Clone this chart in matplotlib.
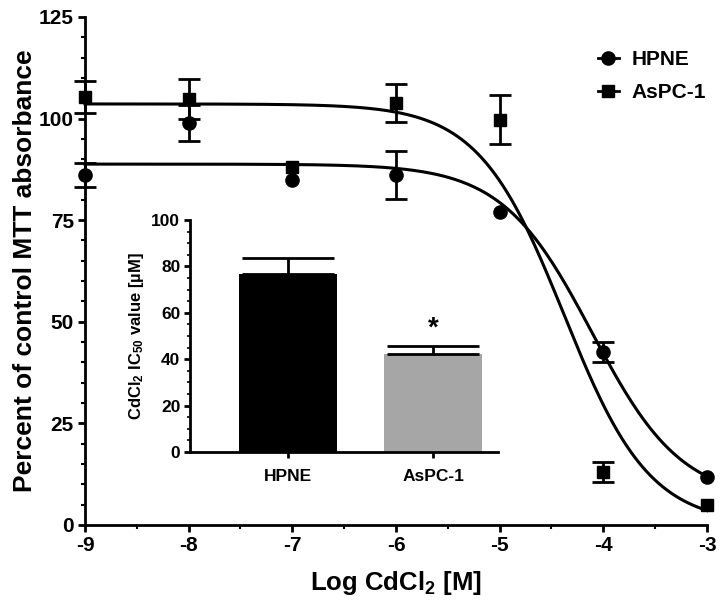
import numpy as np
import matplotlib

matplotlib.use("Agg")
import matplotlib.pyplot as plt
from matplotlib.lines import Line2D
from matplotlib.ticker import MultipleLocator

plt.rcParams["font.family"] = ["Liberation Sans", "DejaVu Sans"]
plt.rcParams["font.weight"] = "bold"
plt.rcParams["axes.labelweight"] = "bold"
plt.rcParams["axes.unicode_minus"] = False
plt.rcParams["mathtext.fontset"] = "custom"
plt.rcParams["mathtext.bf"] = "Liberation Sans:bold"
plt.rcParams["mathtext.rm"] = "Liberation Sans:bold"
plt.rcParams["mathtext.default"] = "bf"

# dose-response data (log M); nan = error bar hidden behind the symbol
log_dose = [-9, -8, -7, -6, -5, -4, -3]
hpne_mean = [86.1, 98.9, 85.0, 86.1, 77.0, 42.5, 11.8]
hpne_err = [3.0, 4.4, np.nan, 6.0, np.nan, 2.5, np.nan]
aspc_mean = [105.3, 104.8, 88.0, 103.8, 99.7, 13.0, 4.9]
aspc_err = [4.0, 5.0, np.nan, 4.6, 6.0, 2.5, np.nan]

# four-parameter logistic fit results (top, bottom, logIC50, hill)
hpne_fit = [88.8, 6.0, -4.11, 1.0]
aspc_fit = [103.6, 0.0, -4.38, 1.05]

# inset IC50 values (uM)
cell_lines = ["HPNE", "AsPC-1"]
ic50_mean = [76.7, 42.2]
ic50_err = [7.0, 3.5]
bar_colors = ["#000000", "#a6a6a6"]


def logistic(x, top, bottom, log_ic50, hill):
    return bottom + (top - bottom) / (1 + 10 ** ((x - log_ic50) * hill))


fig = plt.figure(figsize=(7.24, 6.13), dpi=100)
ax = fig.add_axes([0.1174, 0.1436, 0.8591, 0.8287])

x_fit = np.linspace(-9, -3, 300)
ax.plot(x_fit, logistic(x_fit, *hpne_fit), color="black", lw=2.2, clip_on=False)
ax.plot(x_fit, logistic(x_fit, *aspc_fit), color="black", lw=2.2, clip_on=False)
ax.errorbar(log_dose, hpne_mean, yerr=hpne_err, fmt="o", color="black", ms=9.5,
            capsize=8, elinewidth=2, capthick=2, clip_on=False, zorder=5)
ax.errorbar(log_dose, aspc_mean, yerr=aspc_err, fmt="s", color="black", ms=8.5,
            capsize=8, elinewidth=2, capthick=2, clip_on=False, zorder=5)

ax.set_xlim(-9, -3)
ax.set_ylim(0, 125)
ax.xaxis.set_major_locator(MultipleLocator(1))
ax.xaxis.set_minor_locator(MultipleLocator(0.5))
ax.yaxis.set_major_locator(MultipleLocator(25))
ax.yaxis.set_minor_locator(MultipleLocator(5))
for side in ["top", "right"]:
    ax.spines[side].set_visible(False)
for side in ["left", "bottom"]:
    ax.spines[side].set_linewidth(2)
ax.tick_params(which="major", length=5, width=2, labelsize=15, pad=3)
ax.tick_params(which="minor", length=3, width=1.5)
ax.set_xlabel("Log CdCl$_2$ [M]", fontsize=18.5, labelpad=10)
ax.set_ylabel("Percent of control MTT absorbance", fontsize=19, labelpad=1)

handles = [
    Line2D([], [], color="black", marker="o", ms=9.5, lw=2),
    Line2D([], [], color="black", marker="s", ms=8.5, lw=2),
]
ax.legend(handles, ["HPNE", "AsPC-1"], loc="upper left", bbox_to_anchor=(0.826, 0.918),
          bbox_transform=fig.transFigure, frameon=False, fontsize=15, handlelength=1.0,
          handletextpad=0.6, labelspacing=0.65, borderaxespad=0, borderpad=0)

inset = fig.add_axes([0.2624, 0.2626, 0.4254, 0.3785])
inset.patch.set_visible(False)
inset.bar([0, 1], ic50_mean, width=0.67, color=bar_colors)
inset.errorbar([0, 1], ic50_mean, yerr=[[0, 0], ic50_err], fmt="none", ecolor="black",
               elinewidth=2, capsize=33, capthick=2)
inset.text(1, ic50_mean[1] + ic50_err[1] + 2, "*", ha="center", va="bottom", fontsize=20)
inset.set_xlim(-0.676, 1.448)
inset.set_ylim(0, 100)
inset.set_xticks([0, 1])
inset.set_xticklabels(cell_lines)
inset.yaxis.set_major_locator(MultipleLocator(20))
inset.yaxis.set_minor_locator(MultipleLocator(5))
for side in ["top", "right"]:
    inset.spines[side].set_visible(False)
for side in ["left", "bottom"]:
    inset.spines[side].set_linewidth(2)
inset.tick_params(which="major", length=4, width=2, labelsize=12.5, pad=3)
inset.tick_params(axis="x", pad=8)
inset.tick_params(which="minor", length=2, width=1.2)
inset.set_ylabel("CdCl$_2$ IC$_{50}$ value [µM]", fontsize=12, labelpad=4)

fig.savefig("out.png", dpi=100)
